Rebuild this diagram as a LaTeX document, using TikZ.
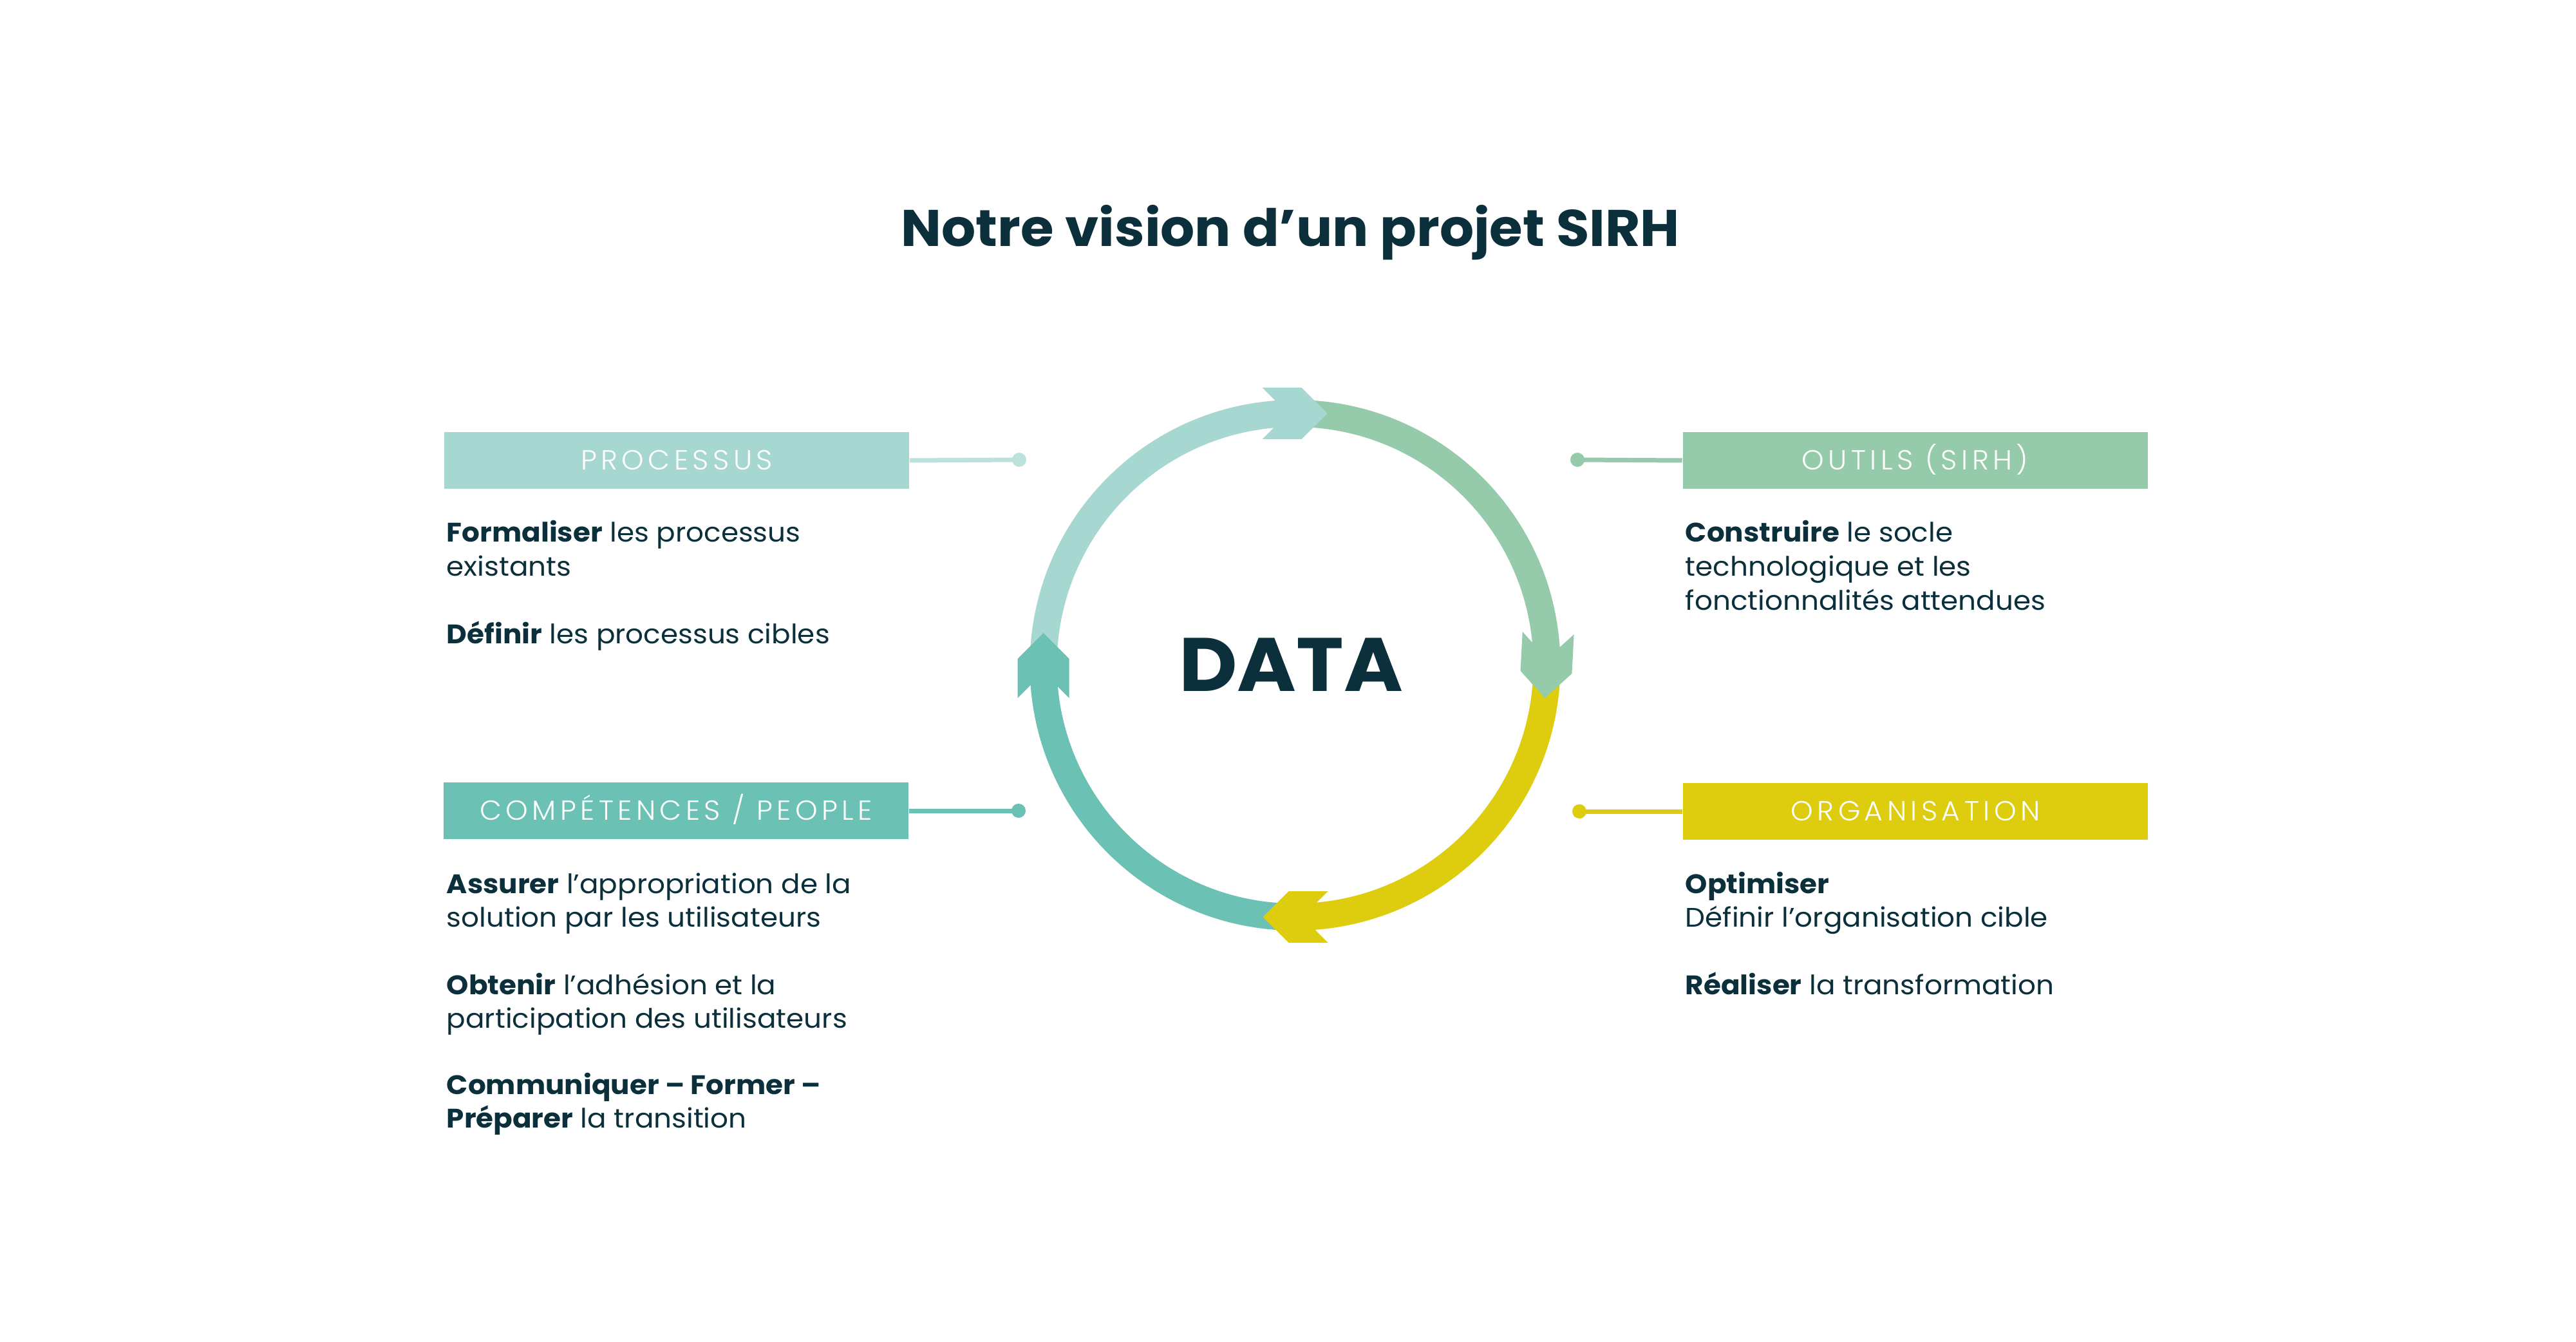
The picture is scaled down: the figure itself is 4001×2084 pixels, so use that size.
\documentclass[tikz,border=0pt]{standalone}
\usepackage{fontspec}
\setmainfont{Poppins}[FakeStretch=1.05]
\newfontfamily\titlefont{Poppins}[FakeStretch=1.045]
\newfontfamily\datafont{Poppins}[FakeStretch=1.06]
\newfontfamily\labelfont{Poppins Light}[LetterSpace=15, FakeStretch=1.03]
\definecolor{ink}{HTML}{0B303B}
\definecolor{lteal}{HTML}{A6D7D0}
\definecolor{lline}{HTML}{BCE2DD}
\definecolor{sgreen}{HTML}{95CBAB}
\definecolor{syellow}{HTML}{DECD0F}
\definecolor{steal}{HTML}{6CC1B5}
\begin{document}
\begin{tikzpicture}[x=0.25pt,y=-0.25pt,
  body/.style={anchor=base west, inner sep=0pt, text=ink, font=\fontsize{10.4}{13}\selectfont},
  boxlbl/.style={minimum width=180.5pt, minimum height=22pt, inner sep=0pt, text height=7.45pt, text depth=0pt, text=white, font=\labelfont\fontsize{10.7}{13}\selectfont},
  link/.style={line width=1.75pt},
  dotn/.style={circle, inner sep=0pt, minimum size=5.5pt},
  ring/.style={line width=10.5pt}]
\fill[white] (0,0) rectangle (4001,2084);
\useasboundingbox (0,0) rectangle (4001,2084);

% title
\node[anchor=base, inner sep=0pt, text=ink, font=\titlefont\bfseries\fontsize{20}{24}\selectfont] (title) at (2004,383) {Notre vision d’un projet SIRH};

% ring
\coordinate (c) at (2011.5,1033);
\draw[ring, lteal] (c) ++(180:391) arc[start angle=180, end angle=270, radius=391];
\draw[ring, sgreen] (c) ++(270:391) arc[start angle=270, end angle=360, radius=391];
\draw[ring, syellow] (c) ++(0:391) arc[start angle=0, end angle=90, radius=391];
\draw[ring, steal] (c) ++(90:391) arc[start angle=90, end angle=180, radius=391];

% arrowheads
\fill[lteal, shift={(2011.5,642)}, rotate=0] (50,0) -- (10,40) -- (-51,40) -- (-11,0) -- (-51,-40) -- (10,-40) -- cycle;
\fill[sgreen, shift={(2402,1034)}, rotate=-93] (50,0) -- (10,40) -- (-51,40) -- (-11,0) -- (-51,-40) -- (10,-40) -- cycle;
\fill[syellow, shift={(2011.5,1424)}, rotate=180] (50,0) -- (10,40) -- (-51,40) -- (-11,0) -- (-51,-40) -- (10,-40) -- cycle;
\fill[steal, shift={(1620.5,1033)}, rotate=90] (50,0) -- (10,40) -- (-51,40) -- (-11,0) -- (-51,-40) -- (10,-40) -- cycle;

\node[anchor=base, inner sep=0pt, text=ink, font=\datafont\bfseries\fontsize{29.4}{32}\selectfont] (data) at (2005,1074) {DATA};

% boxes
\node[boxlbl, fill=lteal] (proc) at (1051,715) {PROCESSUS};
\node[boxlbl, fill=sgreen] (outils) at (2974.5,715) {OUTILS (SIRH)};
\node[boxlbl, fill=steal] (comp) at (1050,1259) {COMPÉTENCES / PEOPLE};
\node[boxlbl, fill=syellow] (org) at (2975,1260) {ORGANISATION};

% connectors
\node[dotn, fill=lline] (pdot) at (1583,714) {};
\node[dotn, fill=sgreen] (odot) at (2450,714) {};
\node[dotn, fill=steal] (cdot) at (1582,1259) {};
\node[dotn, fill=syellow] (gdot) at (2453,1260) {};
\draw[link, lline] (proc.east) -- (pdot.center);
\draw[link, sgreen] (outils.west) -- (odot.center);
\draw[link, steal] (comp.east) -- (cdot.center);
\draw[link, syellow] (org.west) -- (gdot.center);

% processus text
\node[body] (p1) at (693,842) {\textbf{Formaliser} les processus};
\node[body] (p2) at (693,895) {existants};
\node[body] (p3) at (693,1000) {\textbf{Définir} les processus cibles};

% outils text
\node[body] (o1) at (2617,842) {\textbf{Construire} le socle};
\node[body] (o2) at (2617,894.5) {technologique et les};
\node[body] (o3) at (2617,947) {fonctionnalités attendues};

% competences text
\node[body] (c1) at (693,1387.5) {\textbf{Assurer} l’appropriation de la};
\node[body] (c2) at (693,1439.5) {solution par les utilisateurs};
\node[body] (c3) at (693,1544.5) {\textbf{Obtenir} l’adhésion et la};
\node[body] (c4) at (693,1596.5) {participation des utilisateurs};
\node[body] (c5) at (693,1699) {\textbf{Communiquer – Former –}};
\node[body] (c6) at (693,1751) {\textbf{Préparer} la transition};

% organisation text
\node[body] (g1) at (2617,1387) {\textbf{Optimiser}};
\node[body] (g2) at (2617,1439) {Définir l’organisation cible};
\node[body] (g3) at (2617,1544) {\textbf{Réaliser} la transformation};
\end{tikzpicture}
\end{document}
